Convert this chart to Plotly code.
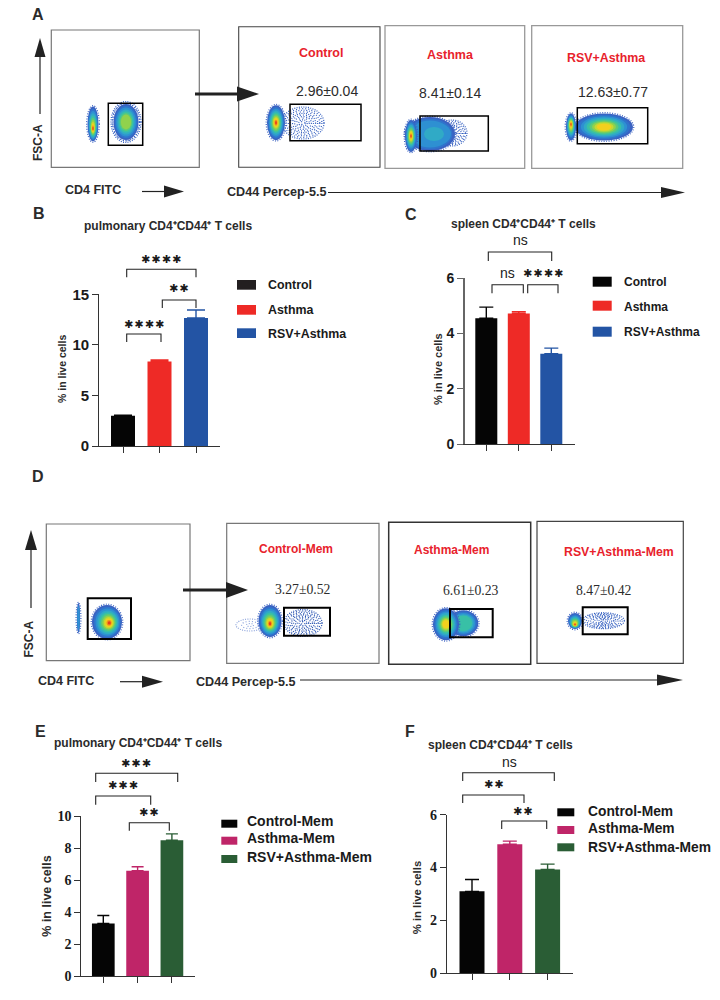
import plotly.graph_objects as go

# ---------- data ----------
groups_main = ["Control", "Asthma", "RSV+Asthma"]
groups_mem = ["Control-Mem", "Asthma-Mem", "RSV+Asthma-Mem"]
b_values = [3.0, 8.35, 12.65]
b_errors = [0.05, 0.15, 0.8]
c_values = [4.55, 4.72, 3.27]
c_errors = [0.4, 0.06, 0.2]
e_values = [3.3, 6.6, 8.5]
e_errors = [0.5, 0.25, 0.4]
f_values = [3.1, 4.88, 3.93]
f_errors = [0.45, 0.12, 0.2]
b_ticks = [0, 5, 10, 15]
c_ticks = [0, 2, 4, 6]
e_ticks = [0, 2, 4, 6, 8, 10]
f_ticks = [0, 2, 4, 6]
main_colors = ["#050505", "#ee2a26", "#2354a4"]
mem_colors = ["#050505", "#bf2568", "#2a5d35"]
main_stats = ["2.96±0.04", "8.41±0.14", "12.63±0.77"]
mem_stats = ["3.27±0.52", "6.61±0.23", "8.47±0.42"]

W, H = 720, 1000
SANS = "Liberation Sans"
SERIF = "Liberation Serif"
STAR = "DejaVu Sans"
RED = "#e8222c"
DARK = "#2b2b2b"

def px(x): return x / W
def py(y): return 1 - y / H

shapes, notes = [], []

def text(x, y, s, size=11, color=DARK, bold=True, family=SANS, angle=0, anchor="center"):
    notes.append(dict(x=px(x), y=py(y), xref="paper", yref="paper", text=s, showarrow=False,
                      xanchor=anchor, yanchor="middle", textangle=angle,
                      font=dict(size=size, color=color, family=family,
                                weight="bold" if bold else "normal"), borderpad=0))

def line(x0, y0, x1, y1, color="#222222", width=1.2):
    shapes.append(dict(type="line", xref="paper", yref="paper", x0=px(x0), y0=py(y0),
                       x1=px(x1), y1=py(y1), line=dict(color=color, width=width)))

def rect(x0, y0, x1, y1, color="#000000", width=1.5, fill=None):
    shapes.append(dict(type="rect", xref="paper", yref="paper", x0=px(x0), y0=py(y0),
                       x1=px(x1), y1=py(y1), line=dict(color=color, width=width),
                       fillcolor=fill if fill else "rgba(0,0,0,0)"))

def tri(points, color="#222222"):
    d = "M " + " L ".join(f"{px(a)} {py(b)}" for a, b in points) + " Z"
    shapes.append(dict(type="path", xref="paper", yref="paper", path=d, fillcolor=color,
                       line=dict(width=0)))

def arrow_right(x0, x1, y, head, half, width=1.2):
    line(x0, y, x1 - head + 1, y, width=width)
    tri([(x1 - head, y - half), (x1, y), (x1 - head, y + half)])

def arrow_up(x, y0, y1, head, half, width=1.2):
    line(x, y0, x, y1 + head - 1, width=width)
    tri([(x - half, y1 + head), (x, y1), (x + half, y1 + head)])

def ell(cx, cy, rx, ry, fill=None, color=None, width=0, dash=None):
    ln = dict(width=width)
    if color:
        ln["color"] = color
    if dash:
        ln["dash"] = dash
    shapes.append(dict(type="circle", xref="paper", yref="paper", x0=px(cx - rx), x1=px(cx + rx),
                       y0=py(cy + ry), y1=py(cy - ry), line=ln,
                       fillcolor=fill if fill else "rgba(0,0,0,0)"))

RAMP = ["#3a62c2", "#2f74cc", "#2e90d2", "#30aac6", "#38c0a6", "#5cca78",
        "#90d24c", "#c8d830", "#f2d01e", "#f09020", "#e83c1e"]
SCALES = [1.0, 0.9, 0.8, 0.7, 0.6, 0.5, 0.41, 0.33, 0.25, 0.17, 0.1]
DASHES = ["1px,1.3px", "1px,2.1px", "1px,1.7px", "1px,2.6px"]

def blob(cx, cy, rx, ry, levels=6, hot=(0, 0)):
    ell(cx, cy, rx + 0.8, ry + 0.8, color="#3a62c2", width=1.2, dash="1px,1.5px")
    for i in range(levels * 2 - 1):
        s = SCALES[i]
        ell(cx + hot[0] * (1 - s), cy + hot[1] * (1 - s), rx * s, ry * s, fill=RAMP[i])

def speck(cx, cy, rx, ry, color="#3560c0", rings=(1.0, 0.9, 0.8, 0.7, 0.6, 0.5, 0.4, 0.3, 0.2, 0.1)):
    for i, r in enumerate(rings):
        ell(cx, cy, rx * r, ry * r, color=color, width=1.2, dash=DASHES[i % len(DASHES)])

# ---------- flow panels, row A ----------
text(38, 14, "A", 16)
rect(51.3, 30, 199.3, 167.3, "#777777", 1.2)
blob(93, 124, 5.5, 17.5, 6, (0, 5))
speck(126, 122, 15, 20.5, rings=(1.0, 0.92))
blob(126, 122, 12.5, 18, 4)
rect(108.3, 103.3, 142.7, 145.3, "#000000", 1.5)

rect(238.7, 26.7, 380, 167.3, "#444444", 1.1)
speck(303, 123, 21, 16)
blob(276, 122.7, 9, 17.5, 6)
rect(290, 104.3, 361, 140.7, "#000000", 1.5)

rect(385, 25.7, 524.7, 168.3, "#999999", 1.3)
speck(452, 133, 15, 13)
blob(430, 134, 25, 17, 2)
ell(434, 134, 17, 12, fill="#2e90d2")
ell(434, 134, 10, 7, fill="#30aac6")
blob(411, 136, 6, 16, 6)
rect(420, 116, 488.3, 151, "#000000", 1.5)

rect(531.7, 25.7, 682.7, 168.3, "#999999", 1.3)
blob(604, 127, 29, 13.5, 5)
blob(571, 127, 5, 13.5, 6, (0, -3))
rect(577.3, 107.7, 647.7, 143.7, "#000000", 1.5)

text(321, 52.7, groups_main[0], 12.5, RED)
text(450, 55, groups_main[1], 12.5, RED)
text(606, 58, groups_main[2], 12.4, RED)
text(326.7, 90.7, main_stats[0], 14, DARK, False)
text(450, 93, main_stats[1], 14, DARK, False)
text(613, 92, main_stats[2], 14, DARK, False)

text(38, 143, "FSC-A", 12, angle=-90)
arrow_up(40, 114, 38, 19, 5.5)
text(93, 190, "CD4 FITC", 12.5)
arrow_right(142, 184, 191.5, 20, 6)
text(276.7, 192, "CD44 Percep-5.5", 12.6)
arrow_right(328, 685, 192.5, 24, 5.5)
arrow_right(195, 259, 94, 22, 7.5, 3)

# ---------- flow panels, row D ----------
text(38, 476, "D", 16)
rect(46.3, 524, 190, 660.7, "#777777", 1.2)
blob(78.5, 618, 1.6, 15, 2)
blob(107, 622, 15, 17, 6, (2.5, 1))
rect(87.7, 598.3, 131, 639, "#000000", 2)

rect(226.7, 523.3, 379, 663.3, "#777777", 1.2)
speck(250, 625, 14, 6, "#8fa6dc", rings=(1.0, 0.6, 0.25))
speck(303, 623, 19, 13.5, "#2450b0")
blob(270, 621, 11.5, 16, 6, (0, 3))
rect(284, 607.7, 330, 635.7, "#000000", 2)

rect(388.7, 522.3, 530.7, 664.3, "#333333", 1.5)
blob(463.3, 623.3, 15, 13, 3)
blob(446, 624.3, 13, 16, 5)
rect(450, 609, 492.7, 637.3, "#000000", 2)

rect(537, 521.3, 683.3, 663.3, "#444444", 1.2)
speck(603.3, 620.7, 21, 8)
blob(575, 621, 7, 8, 6, (0, 4))
rect(582.7, 607.3, 627.7, 634.3, "#000000", 2)

text(296, 548.7, groups_mem[0], 12, RED)
text(451.7, 550, groups_mem[1], 12, RED)
text(619, 551.7, groups_mem[2], 12.3, RED)
text(302.7, 589.3, mem_stats[0], 13.7, DARK, False, SERIF)
text(470.7, 590.7, mem_stats[1], 13.7, DARK, False, SERIF)
text(604.3, 590.3, mem_stats[2], 13.7, DARK, False, SERIF)

text(29.3, 639.3, "FSC-A", 12, angle=-90)
arrow_up(31, 608, 530, 20, 6)
text(66, 680.7, "CD4 FITC", 12.5)
arrow_right(120, 163, 681.7, 21, 6)
text(245.7, 682, "CD44 Percep-5.5", 12.6)
arrow_right(300, 683, 680, 26, 5.5)
arrow_right(183, 248, 590, 22, 8, 3)

# ---------- bar panels ----------
fig = go.Figure()

def bar_panel(idx, left, right, y0, ytop, first, spacing, bar_w, names, values, errors, colors, ticks,
              tick_font, cap, y_line=("#333333", 1.2)):
    xa = f"xaxis{idx}"
    ya = f"yaxis{idx}"
    for i, (n, v, er, c) in enumerate(zip(names, values, errors, colors)):
        fig.add_trace(go.Bar(x=[i], y=[v], name=n, marker=dict(color=c, line=dict(width=0)),
                             width=bar_w / spacing, xaxis=f"x{idx}", yaxis=f"y{idx}", showlegend=False,
                             error_y=dict(type="data", array=[er], arrayminus=[0], symmetric=False,
                                          color=c, thickness=1.4, width=cap)))
    fig.update_layout(**{
        xa: dict(domain=[px(left), px(right)], anchor=f"y{idx}",
                 range=[(left - first) / spacing, (right - first) / spacing],
                 tickvals=[0, 1, 2], showticklabels=False, ticks="outside", ticklen=6, tickwidth=1.1,
                 tickcolor="#333333", showline=True, linecolor="#333333", linewidth=1.2,
                 showgrid=False, zeroline=False, automargin=False),
        ya: dict(domain=[py(y0), py(ytop)], anchor=f"x{idx}", range=[0, ticks[-1]], tickvals=ticks,
                 ticks="outside", ticklen=6, tickwidth=1.1, tickcolor=y_line[0], showline=True,
                 linecolor=y_line[0], linewidth=y_line[1], showgrid=False, zeroline=False,
                 tickfont=tick_font, automargin=False),
    })

b_tick = dict(family=SANS, size=15, color="#1a1a1a", weight="bold")
c_tick = dict(family=SANS, size=14, color="#1a1a1a", weight="bold")
serif_tick = dict(family=SERIF, size=14, color="#1a1a1a", weight="bold")
bar_panel(1, 99.3, 220, 446, 294.3, 123, 36.5, 24, groups_main, b_values, b_errors, main_colors, b_ticks, b_tick, 9)
bar_panel(2, 465, 575, 444.3, 278, 486.3, 32.5, 22, groups_main, c_values, c_errors, main_colors, c_ticks, c_tick, 7,
          ("#666666", 2))
bar_panel(3, 81.3, 195, 976.3, 816.3, 103.3, 34.3, 22.7, groups_mem, e_values, e_errors, mem_colors, e_ticks, serif_tick, 6)
bar_panel(4, 447, 572.7, 973.3, 814.7, 472, 37.8, 25, groups_mem, f_values, f_errors, mem_colors, f_ticks, serif_tick, 7)

def bracket(x0, x1, y, leg):
    d = f"M {px(x0)} {py(y + leg)} L {px(x0)} {py(y)} L {px(x1)} {py(y)} L {px(x1)} {py(y + leg)}"
    shapes.append(dict(type="path", xref="paper", yref="paper", path=d, line=dict(color="#222222", width=1.1)))

def stars(x, y, n):
    text(x, y, "\u200a".join(["\u2731"] * n), 11, "#1a1a1a", False, STAR)

def ns(x, y):
    text(x, y, "ns", 14, "#222222", False)

def legend(left, text_left, w, rows, h, names, colors, size):
    for (top, center), n, c in zip(rows, names, colors):
        rect(left, top, left + w, top + h, c, 0, c)
        text(text_left, center, n, size, "#1a1a1a", True, SANS, anchor="left")

PULM = "pulmonary CD4\u207aCD44\u207a T cells"
SPLEEN = "spleen CD4\u207aCD44\u207a T cells"

# panel B
text(39, 214, "B", 16)
text(168, 226, PULM, 12)
text(62.7, 369.3, "% in live cells", 10.5, angle=-90)
bracket(126.7, 196, 269.3, 8); stars(161, 259, 4)
bracket(162.3, 196, 300, 8); stars(179, 289, 2)
bracket(126.7, 161, 334, 8); stars(144, 324, 4)
legend(237, 267.3, 19, [(280, 285), (305, 310), (328.3, 334)], 9.7, groups_main, ["#231f20", "#ee2a26", "#2354a4"], 12.4)

# panel C
text(411, 215, "C", 16)
text(523, 224, SPLEEN, 12)
text(438, 369, "% in live cells", 11, angle=-90)
bracket(488.3, 551.7, 252, 9); ns(520.7, 240)
bracket(492, 523.3, 284.7, 8.6); ns(507.7, 273.3)
bracket(527.7, 558, 284.7, 8.6); stars(542.7, 273.7, 4)
legend(592.7, 623.3, 19, [(276.7, 282), (300.7, 307), (326.7, 332)], 10, groups_main, ["#050505", "#ee2a26", "#2354a4"], 12)

# panel E
text(40, 731, "E", 16)
text(138, 743, PULM, 12)
text(46.7, 896, "% in live cells", 12.5, angle=-90)
bracket(95.7, 177.7, 773.3, 8.7); stars(136, 763, 3)
bracket(95.7, 150.7, 796, 8.7); stars(122.7, 785, 3)
bracket(129.3, 169.3, 822.7, 8); stars(149.3, 812.7, 2)
legend(221.3, 245.7, 16, [(819.7, 821.3), (836.7, 837.7), (855, 857)], 8, groups_mem, mem_colors, 14)

# panel F
text(410, 731, "F", 16)
text(500, 745, SPLEEN, 12)
text(417.3, 898, "% in live cells", 11.3, angle=-90)
bracket(462.7, 554.3, 772.7, 8.3); ns(509, 761.7)
bracket(462.7, 524, 795, 8); stars(494, 784, 2)
bracket(501.7, 546.7, 821, 8); stars(523.3, 811.7, 2)
legend(557.3, 586.7, 17, [(808.3, 811.3), (826, 828), (843.3, 847.3)], 8, groups_mem, mem_colors, 13.8)

fig.update_layout(width=W, height=H, margin=dict(l=0, r=0, t=0, b=0, pad=0, autoexpand=False), autosize=False,
                  paper_bgcolor="white", plot_bgcolor="white", shapes=shapes, annotations=notes,
                  showlegend=False, font=dict(family=SANS))
fig.write_html("out.html", post_script="document.body.style.margin='0';",
               config=dict(displayModeBar=False))
